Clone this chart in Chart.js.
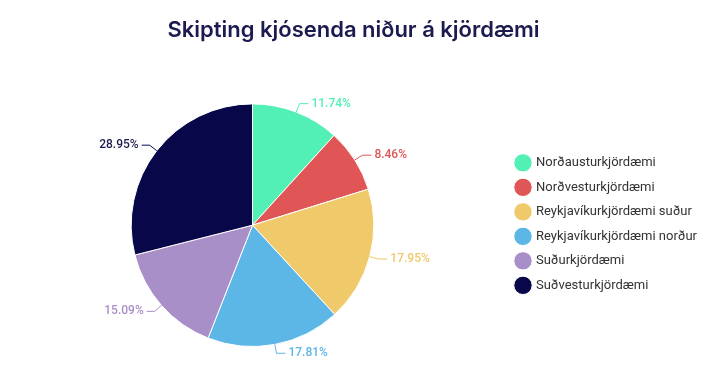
<!DOCTYPE html>
<html><head><meta charset="utf-8">
<script src="https://cdn.jsdelivr.net/npm/chart.js@4/dist/chart.umd.min.js"></script>
<style>html,body{margin:0;padding:0;background:#fff}#wrap{width:713px;height:376px;position:relative}</style>
</head><body><div id="wrap"><canvas id="c" width="713" height="376"></canvas></div>
<script>
const title = 'Skipting kjósenda niður á kjördæmi';
const categories = ['Norðausturkjördæmi','Norðvesturkjördæmi','Reykjavíkurkjördæmi suður','Reykjavíkurkjördæmi norður','Suðurkjördæmi','Suðvesturkjördæmi'];
const shares = [11.74, 8.46, 17.95, 17.81, 15.09, 28.95];
const colors = ['#52F0B4','#E05656','#F0C96A','#5CB6E6','#A88FC8','#07074A'];

const labelPlugin = {
  id: 'outLabels',
  afterDatasetsDraw(chart) {
    const ctx = chart.ctx;
    const meta = chart.getDatasetMeta(0);
    ctx.save();
    ctx.font = '500 12px Roboto';
    ctx.textBaseline = 'middle';
    meta.data.forEach((arc, i) => {
      const p = arc.getProps(['x','y','startAngle','endAngle','outerRadius'], true);
      const a = (p.startAngle + p.endAngle) / 2;
      const r = p.outerRadius;
      const cx = Math.cos(a), sy = Math.sin(a);
      const x0 = p.x + cx * r, y0 = p.y + sy * r;
      const x1 = p.x + cx * (r + 9), y1 = p.y + sy * (r + 9);
      const right = cx >= 0;
      const x2 = x1 + (right ? 9 : -8);
      ctx.strokeStyle = colors[i];
      ctx.lineWidth = 1;
      ctx.beginPath();
      ctx.moveTo(x0, y0); ctx.lineTo(x1, y1); ctx.lineTo(x2, y1);
      ctx.stroke();
      ctx.fillStyle = colors[i] === '#07074A' ? '#1d1d4f' : colors[i];
      ctx.textAlign = right ? 'left' : 'right';
      ctx.fillText(shares[i].toFixed(2) + '%', x2 + (right ? 3 : -3), y1);
    });
    ctx.restore();
  }
};

new Chart(document.getElementById('c'), {
  type: 'pie',
  data: {
    labels: categories,
    datasets: [{ data: shares, backgroundColor: colors, borderColor: '#ffffff', borderWidth: 1 }]
  },
  options: {
    responsive: false,
    animation: false,
    layout: { padding: { left: 0, right: 6, top: 0, bottom: 29 } },
    plugins: {
      title: {
        display: true, text: title, color: '#1b1b4f',
        font: { family: 'Inter', size: 22, weight: '600' },
        padding: { top: 17, bottom: 60 }
      },
      legend: {
        position: 'right',
        title: { display: true, text: '', font: { size: 1 }, padding: { top: 100, bottom: 0 } },
        labels: {
          usePointStyle: true, pointStyle: 'circle', boxWidth: 13, boxHeight: 13,
          padding: 11.5, color: '#333333', font: { family: 'Roboto', size: 13 }
        }
      },
      tooltip: { enabled: false }
    }
  },
  plugins: [labelPlugin]
});
</script></body></html>
